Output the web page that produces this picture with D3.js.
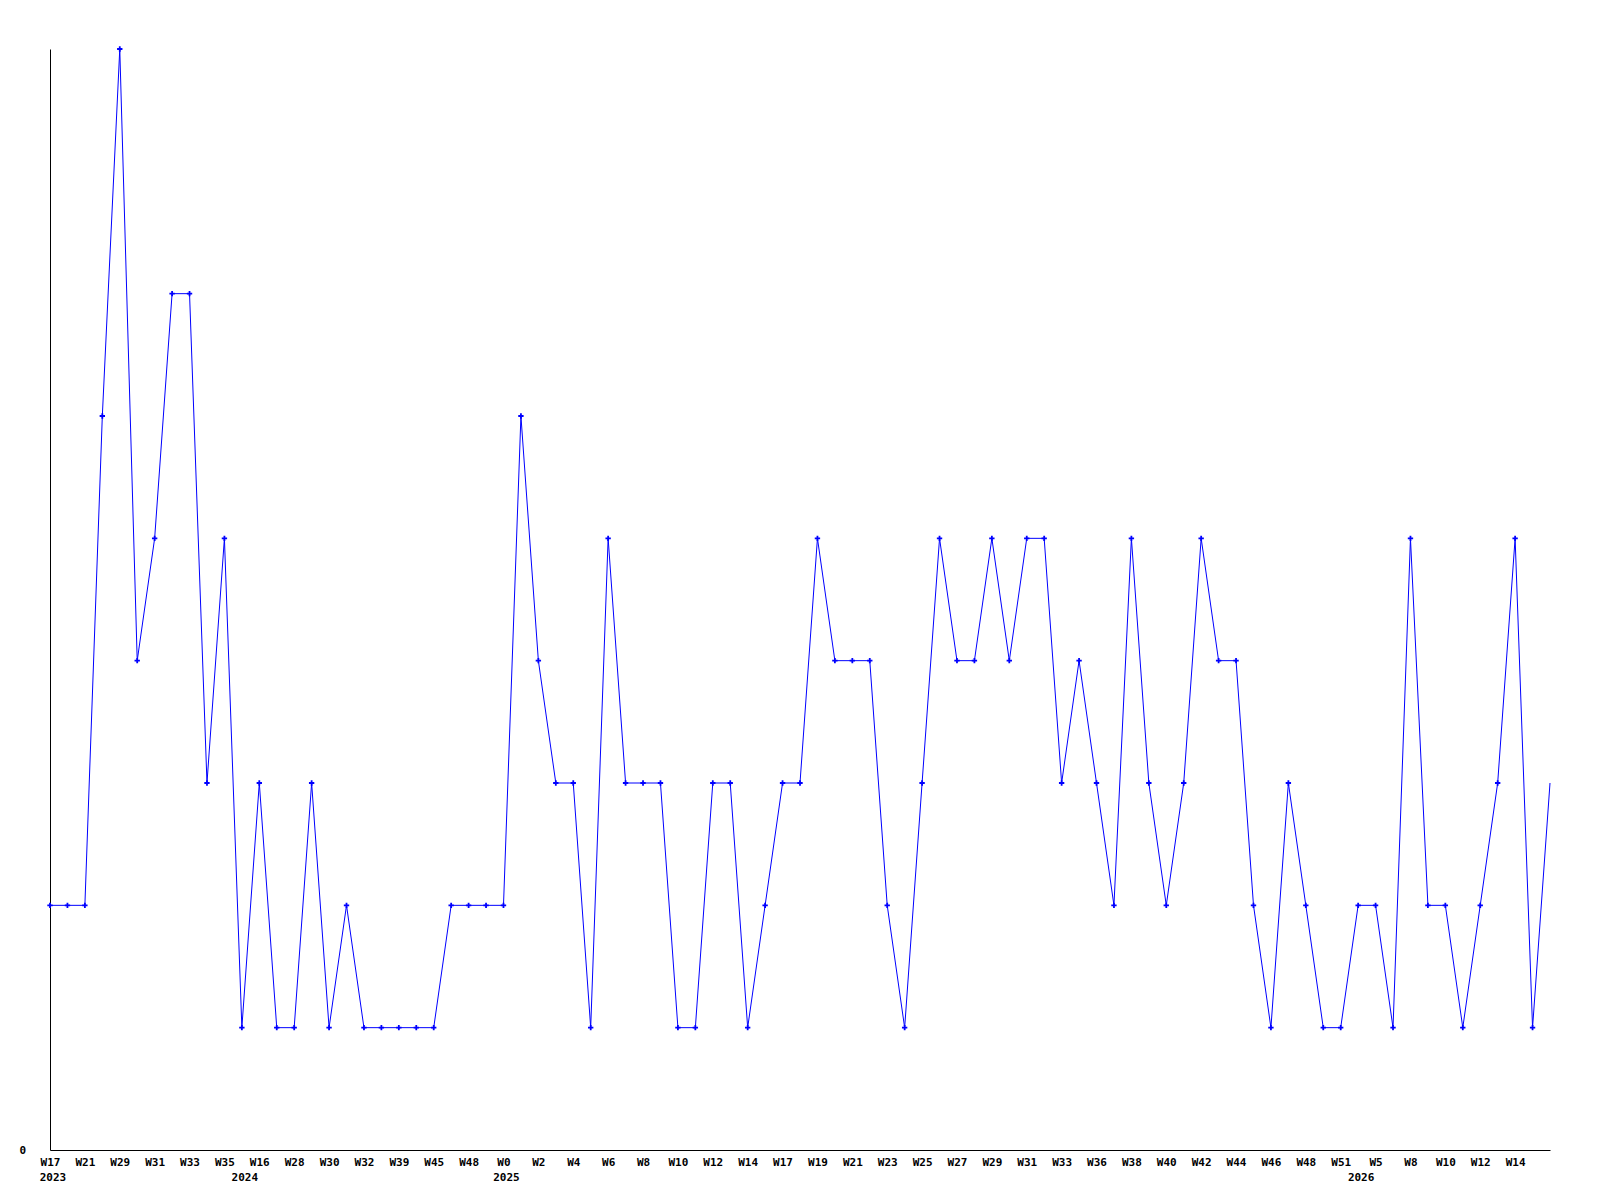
<!DOCTYPE html>
<html>
<head>
<meta charset="utf-8">
<script src="https://cdn.jsdelivr.net/npm/d3@7"></script>
<style>
  body { margin: 0; background: #fff; }
  text { font-family: "DejaVu Sans Mono", monospace; font-weight: bold; font-size: 11px; fill: #000; }
</style>
</head>
<body>
<div id="chart"></div>
<script>
// one value per week with data, oldest first
var counts = [2, 2, 2, 6, 9, 4, 5, 7, 7, 3, 5, 1, 3, 1, 1, 3, 1, 2, 1, 1,
              1, 1, 1, 2, 2, 2, 2, 6, 4, 3, 3, 1, 5, 3, 3, 3, 1, 1, 3, 3,
              1, 2, 3, 3, 5, 4, 4, 4, 2, 1, 3, 5, 4, 4, 5, 4, 5, 5, 3, 4,
              3, 2, 5, 3, 2, 3, 5, 4, 4, 2, 1, 3, 2, 1, 1, 2, 2, 1, 5, 2,
              2, 1, 2, 3, 5, 1, 3];

// labels shown under every other point
var weekLabels = ["W17", "W21", "W29", "W31", "W33", "W35", "W16", "W28", "W30", "W32",
                  "W39", "W45", "W48", "W0", "W2", "W4", "W6", "W8", "W10", "W12",
                  "W14", "W17", "W19", "W21", "W23", "W25", "W27", "W29", "W31", "W33",
                  "W36", "W38", "W40", "W42", "W44", "W46", "W48", "W51", "W5", "W8",
                  "W10", "W12", "W14"];

// first point of each year
var years = ["2023", "2024", "2025", "2026"];
var yearStart = [0, 11, 26, 75];

var w = 1600, h = 1200,
    p = {"top": 49, "right": 50, "left": 50, "bot": 50};

var svg = d3.select("#chart").append("svg")
  .attr("width", w)
  .attr("height", h)

var idx = d3.range(counts.length);

var x = d3.scalePoint()
  .domain(idx)
  .range([p.left, w - p.right])

var y = d3.scaleLinear()
  .domain([0, d3.max(counts)])
  .range([h - p.bot, p.top])

var tickIdx = weekLabels.map(function(d, i){ return i * 2 });

var xAxis = d3.axisBottom(x)
  .tickValues(tickIdx)
  .tickSize(0)
  .tickPadding(8)
  .tickFormat(function(d){ return weekLabels[d / 2] });

var gx = svg.append("g")
  .attr("transform", "translate(0," + (h - p.bot) + ")")
  .call(xAxis)
gx.selectAll("text").attr("font-family", null).attr("font-size", null).attr("dy", "0.71em");
gx.select(".domain").attr("stroke", "#000");

var yAxis = d3.axisLeft(y).tickValues([0]).tickSize(0).tickPadding(24);
var gy = svg.append("g")
  .attr("transform", "translate(" + p.left + ",0)")
  .call(yAxis)
gy.selectAll("text").attr("font-family", null).attr("font-size", null);

svg.selectAll(".year")
  .data(years)
  .enter()
    .append("text")
      .attr("class", "year")
      .attr("text-anchor", "middle")
      .attr("x", function(d, i){ return x(yearStart[i]) + 3 })
      .attr("y", h - p.bot + 31)
      .text(function(d){ return d })

var line = d3.line()
  .x(function(d, i){ return x(i) })
  .y(function(d){ return y(d) })

svg.append("path")
  .datum(counts)
  .attr("fill", "none")
  .attr("stroke", "#0000ff")
  .attr("stroke-width", 1)
  .attr("d", line)

// the last point has no marker in the original
var cross = d3.symbol(d3.symbolCross).size(16);
svg.selectAll(".pt")
  .data(counts.slice(0, counts.length - 1))
  .enter()
    .append("path")
      .attr("class", "pt")
      .attr("d", cross)
      .attr("transform", function(d, i){ return "translate(" + x(i) + "," + y(d) + ")" })
      .attr("fill", "#0000ff")
</script>
</body>
</html>
